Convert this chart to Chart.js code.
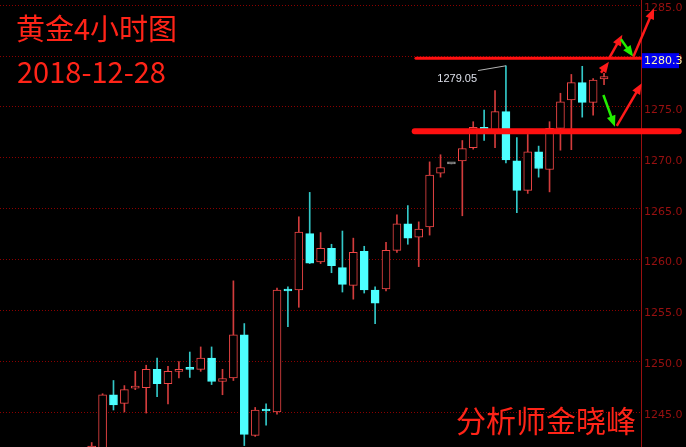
<!DOCTYPE html>
<html>
<head>
<meta charset="utf-8">
<script src="https://cdn.jsdelivr.net/npm/chart.js"></script>
<style>
  html, body { margin: 0; padding: 0; background: #000; overflow: hidden; }
  canvas { display: block; }
</style>
</head>
<body>
<canvas id="myChart" width="686" height="447"></canvas>
<script>
// 黄金4小时K线 (读图估计的 OHLC)
const opens  = [1240.5, 1240.6, 1246.7, 1245.85, 1247.35, 1247.4, 1249.2, 1247.8, 1249.0, 1249.3,
                1249.2, 1250.3, 1248.0, 1248.35, 1252.6, 1242.7, 1245.2, 1245.0, 1257.0, 1257.0,
                1262.55, 1259.75, 1261.1, 1259.2, 1257.45, 1260.8, 1257.0, 1257.1, 1260.9, 1263.5,
                1262.2, 1263.2, 1268.5, 1269.4, 1269.7, 1271.0, 1273.0, 1272.7, 1274.55, 1269.7,
                1266.8, 1270.6, 1268.85, 1272.9, 1275.7, 1277.4, 1275.45, 1277.75];
const highs  = [1242.0, 1246.8, 1248.1, 1247.6, 1249.0, 1249.6, 1250.3, 1249.5, 1249.95, 1250.9,
                1251.4, 1251.4, 1249.2, 1257.9, 1253.7, 1245.45, 1245.8, 1257.2, 1257.3, 1264.2,
                1266.6, 1262.65, 1261.5, 1262.8, 1262.1, 1261.3, 1257.3, 1261.7, 1264.4, 1265.3,
                1263.7, 1269.6, 1270.3, 1269.4, 1271.7, 1273.55, 1274.7, 1276.6, 1279.05, 1272.0,
                1272.3, 1271.15, 1273.55, 1276.35, 1278.2, 1279.0, 1277.8, 1278.3];
const lows   = [1239.5, 1240.2, 1245.2, 1245.0, 1247.2, 1244.9, 1246.5, 1245.8, 1248.35, 1248.4,
                1249.0, 1247.7, 1246.7, 1248.1, 1241.7, 1242.6, 1243.7, 1244.8, 1253.4, 1255.3,
                1259.6, 1259.6, 1258.7, 1256.8, 1256.1, 1256.7, 1253.7, 1256.9, 1260.7, 1261.5,
                1259.3, 1262.4, 1268.1, 1269.4, 1264.3, 1270.85, 1271.7, 1271.0, 1269.5, 1264.6,
                1266.5, 1268.1, 1266.65, 1270.75, 1270.8, 1274.0, 1274.2, 1277.2];
const closes = [1241.65, 1246.7, 1245.7, 1247.2, 1247.45, 1249.2, 1247.8, 1249.0, 1249.2, 1249.2,
                1250.3, 1248.0, 1248.3, 1252.6, 1242.8, 1245.2, 1245.1, 1257.0, 1256.9, 1262.7,
                1259.65, 1261.1, 1259.4, 1257.55, 1260.7, 1257.0, 1255.7, 1260.9, 1263.5, 1262.1,
                1263.0, 1268.3, 1269.05, 1269.4, 1270.9, 1273.0, 1272.8, 1274.55, 1269.8, 1266.8,
                1270.6, 1268.95, 1272.9, 1275.5, 1277.4, 1275.45, 1277.65, 1278.0];

// 画线: 水平线 (价格, 起点K线序号, 终点序号, 线宽)
const levelPrices = [1279.8, 1272.6];
const levelStarts = [29.75, 29.63];
const levelEnds   = [50.39, 53.85];
const levelWidths = [3, 6];
const levelLabel  = '1280.3';

// 箭头 [序号, 价格]
const arrowFrom = [[46.72, 1278.37], [47.5, 1279.85], [48.55, 1281.66], [49.69, 1279.95], [46.94, 1276.18], [48.17, 1273.13]];
const arrowTo   = [[47.45, 1279.45], [48.68, 1282.1], [49.68, 1279.95], [51.59, 1284.71], [48.0, 1273.06], [50.46, 1277.33]];
const arrowColors = ['#ff1a1a', '#ff1a1a', '#22ee00', '#ff1a1a', '#22ee00', '#ff1a1a'];

const highMark = { index: 38, price: 1279.05, textIndex: 35.35, textPrice: 1277.5 };

const RED = '#f04646', CYAN = '#4dffff', GREY = '#8c8c8c';

const idx = opens.map((_, i) => i);
const kind = idx.map(i => closes[i] > opens[i] ? 'up' : (closes[i] < opens[i] ? 'down' : 'flat'));

function drawArrow(ctx, x1, y1, x2, y2, color) {
    const a = Math.atan2(y2 - y1, x2 - x1);
    const head = 11, half = 4.5;
    ctx.strokeStyle = color;
    ctx.fillStyle = color;
    ctx.lineWidth = 2.5;
    ctx.beginPath();
    ctx.moveTo(x1, y1);
    ctx.lineTo(x2 - Math.cos(a) * head * 0.7, y2 - Math.sin(a) * head * 0.7);
    ctx.stroke();
    ctx.beginPath();
    ctx.moveTo(x2, y2);
    ctx.lineTo(x2 - head * Math.cos(a) + half * Math.sin(a), y2 - head * Math.sin(a) - half * Math.cos(a));
    ctx.lineTo(x2 - head * Math.cos(a) - half * Math.sin(a), y2 - head * Math.sin(a) + half * Math.cos(a));
    ctx.closePath();
    ctx.fill();
}

const overlay = {
    id: 'overlay',
    beforeDraw(chart) {
        const ctx = chart.ctx;
        ctx.save();
        ctx.fillStyle = '#000';
        ctx.fillRect(0, 0, chart.width, chart.height);
        ctx.restore();
    },
    afterDraw(chart) {
        const { ctx, chartArea, scales: { x, y } } = chart;
        ctx.save();

        // 坐标轴竖线
        ctx.strokeStyle = '#9a1010';
        ctx.lineWidth = 1;
        ctx.beginPath();
        ctx.moveTo(chartArea.right + 0.5, 0);
        ctx.lineTo(chartArea.right + 0.5, chart.height);
        ctx.stroke();

        // 水平线
        ctx.strokeStyle = '#ff1010';
        ctx.lineCap = 'round';
        levelPrices.forEach((p, i) => {
            ctx.lineWidth = levelWidths[i];
            ctx.beginPath();
            ctx.moveTo(x.getPixelForValue(levelStarts[i]), y.getPixelForValue(p));
            ctx.lineTo(x.getPixelForValue(levelEnds[i]), y.getPixelForValue(p));
            ctx.stroke();
        });
        ctx.lineCap = 'butt';

        // 价格标签
        const ly = y.getPixelForValue(levelPrices[0]);
        ctx.fillStyle = '#0000f0';
        ctx.fillRect(chartArea.right + 1, ly - 5, 37, 15);
        ctx.fillStyle = '#fff6b0';
        ctx.font = '11px "DejaVu Sans"';
        ctx.textBaseline = 'middle';
        ctx.textAlign = 'left';
        ctx.fillText(levelLabel, chartArea.right + 3, ly + 3);

        // 箭头
        arrowFrom.forEach((f, i) => {
            const t = arrowTo[i];
            drawArrow(ctx, x.getPixelForValue(f[0]), y.getPixelForValue(f[1]),
                      x.getPixelForValue(t[0]), y.getPixelForValue(t[1]), arrowColors[i]);
        });

        // 最高价标注
        const tx = x.getPixelForValue(highMark.textIndex);
        const ty = y.getPixelForValue(highMark.textPrice);
        ctx.strokeStyle = '#b4b4b4';
        ctx.lineWidth = 1;
        ctx.beginPath();
        ctx.moveTo(tx + 1, ty - 11);
        ctx.lineTo(x.getPixelForValue(highMark.index), y.getPixelForValue(highMark.price));
        ctx.stroke();
        ctx.fillStyle = '#dde0ea';
        ctx.font = '11px "Liberation Sans"';
        ctx.textAlign = 'right';
        ctx.textBaseline = 'alphabetic';
        ctx.fillText(highMark.price.toFixed(2), tx, ty);

        // 标题文字
        ctx.fillStyle = '#ff2418';
        ctx.textAlign = 'left';
        ctx.font = '29px "Noto Sans CJK SC"';
        ctx.fillText('黄金4小时图', 16, 40);
        ctx.fillText('2018-12-28', 17, 83);
        ctx.font = '30px "Noto Sans CJK SC"';
        ctx.fillText('分析师金晓峰', 456, 432);
        ctx.restore();
    }
};

const ctx = document.getElementById('myChart').getContext('2d');
new Chart(ctx, {
    type: 'bar',
    data: {
        datasets: [{
            label: 'body',
            data: idx.map(i => ({ x: i, y: [opens[i], closes[i]] })),
            backgroundColor: kind.map(k => k === 'up' ? '#000' : (k === 'down' ? CYAN : GREY)),
            borderColor: kind.map(k => k === 'up' ? RED : (k === 'down' ? CYAN : GREY)),
            borderWidth: 1,
            borderSkipped: false,
            barThickness: 8,
            minBarLength: 2,
            grouped: false,
            order: 0
        }, {
            label: 'wick',
            data: idx.map(i => ({ x: i, y: [lows[i], highs[i]] })),
            backgroundColor: kind.map(k => k === 'up' ? '#d23c3c' : (k === 'down' ? '#33c8c8' : GREY)),
            borderWidth: 0,
            barThickness: 1,
            grouped: false,
            order: 1
        }]
    },
    options: {
        responsive: false,
        animation: false,
        layout: { padding: 0 },
        plugins: {
            legend: { display: false },
            tooltip: { enabled: false }
        },
        scales: {
            x: {
                type: 'linear',
                display: false,
                offset: false,
                min: -8.41,
                max: 50.39
            },
            y: {
                position: 'right',
                min: 1241.56,
                max: 1285.52,
                afterFit: scale => {
                    scale.width = 45;
                    scale.paddingTop = 0;
                    scale.paddingBottom = 0;
                },
                grid: {
                    color: '#8b0000',
                    drawTicks: false
                },
                border: { display: false, dash: [1, 2] },
                ticks: {
                    stepSize: 5,
                    includeBounds: false,
                    padding: 3,
                    labelOffset: 3,
                    color: '#9a1010',
                    font: { family: 'DejaVu Sans', size: 11 },
                    callback: v => v.toFixed(1)
                }
            }
        }
    },
    plugins: [overlay]
});
</script>
</body>
</html>
